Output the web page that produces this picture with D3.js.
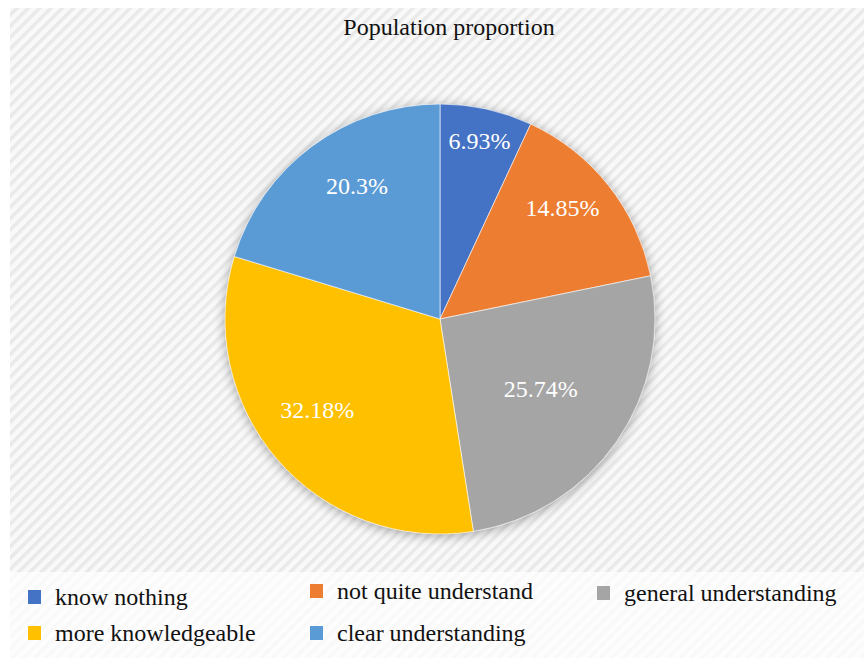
<!DOCTYPE html>
<html>
<head>
<meta charset="utf-8">
<script src="https://cdn.jsdelivr.net/npm/d3@7"></script>
<style>
  body { margin: 0; background: #fff; }
  text { font-family: "Liberation Serif", "Times New Roman", serif; }
</style>
</head>
<body>
<div id="chart"></div>
<script>
const categories = ["know nothing", "not quite understand", "general understanding", "more knowledgeable", "clear understanding"];
const values = [6.93, 14.85, 25.74, 32.18, 20.3];
const labels = ["6.93%", "14.85%", "25.74%", "32.18%", "20.3%"];
const colors = ["#4472C4", "#ED7D31", "#A5A5A5", "#FFC000", "#5B9BD5"];
// label placement: distance as share of radius, and a small turn (rad) off the mid angle
const labelRadius = [0.85, 0.77, 0.57, 0.71, 0.73];
const labelTurn = [0, -0.07, 0, 0.08, 0.08];

const W = 864, H = 658;
const cx = 440, cy = 319, r = 215;

const svg = d3.select("#chart").append("svg")
  .attr("width", W)
  .attr("height", H);

const defs = svg.append("defs");
const pat = defs.append("pattern")
  .attr("id", "hatch")
  .attr("patternUnits", "userSpaceOnUse")
  .attr("width", 8).attr("height", 8)
  .attr("patternTransform", "rotate(45)");
pat.append("rect").attr("width", 8).attr("height", 8).attr("fill", "#f9f9f9");
pat.append("rect").attr("width", 3.5).attr("height", 8).attr("fill", "#e9e9e9");

const shadow = defs.append("filter").attr("id", "shadow")
  .attr("x", "-20%").attr("y", "-20%").attr("width", "140%").attr("height", "140%");
shadow.append("feGaussianBlur").attr("in", "SourceAlpha").attr("stdDeviation", 6);
shadow.append("feOffset").attr("dx", 0).attr("dy", 2).attr("result", "b");
shadow.append("feComponentTransfer").append("feFuncA").attr("type", "linear").attr("slope", 0.35);
const merge = shadow.append("feMerge");
merge.append("feMergeNode");
merge.append("feMergeNode").attr("in", "SourceGraphic");

// background
svg.append("rect")
  .attr("x", 10).attr("y", 8)
  .attr("width", W - 10).attr("height", H - 8)
  .attr("fill", "url(#hatch)");
svg.append("rect")
  .attr("x", 10).attr("y", 572)
  .attr("width", W - 10).attr("height", H - 572)
  .attr("fill", "#fff").attr("opacity", 0.7);

svg.append("text")
  .attr("x", 449).attr("y", 35)
  .attr("text-anchor", "middle")
  .attr("font-size", 24)
  .attr("fill", "#111")
  .text("Population proportion");

const pie = d3.pie().sort(null).value(d => d);
const arcs = pie(values);
const arc = d3.arc().innerRadius(0).outerRadius(r);

const g = svg.append("g").attr("transform", `translate(${cx},${cy})`);

g.append("circle").attr("r", r).attr("fill", "#ccc").attr("filter", "url(#shadow)");

g.selectAll("path.slice")
  .data(arcs)
  .join("path")
  .attr("class", "slice")
  .attr("d", arc)
  .attr("fill", (d, i) => colors[i])
  .attr("stroke", "#fff")
  .attr("stroke-width", 0.6);

g.selectAll("text.lbl")
  .data(arcs)
  .join("text")
  .attr("class", "lbl")
  .attr("transform", (d, i) => {
    const a = (d.startAngle + d.endAngle) / 2 + labelTurn[i];
    const rr = r * labelRadius[i];
    return `translate(${rr * Math.sin(a)},${-rr * Math.cos(a)})`;
  })
  .attr("text-anchor", "middle")
  .attr("dy", "0.35em")
  .attr("font-size", 24)
  .attr("fill", "#fff")
  .text((d, i) => labels[i]);

// legend
const legendPos = [[28, 597], [310, 591], [597, 593], [28, 633], [310, 633]];
const leg = svg.append("g").selectAll("g")
  .data(categories)
  .join("g")
  .attr("transform", (d, i) => `translate(${legendPos[i][0]},${legendPos[i][1]})`);
leg.append("rect")
  .attr("x", 0).attr("y", -7)
  .attr("width", 13).attr("height", 14)
  .attr("fill", (d, i) => colors[i]);
leg.append("text")
  .attr("x", 27).attr("dy", "0.35em")
  .attr("font-size", 24)
  .attr("fill", "#111")
  .text(d => d);
</script>
</body>
</html>
